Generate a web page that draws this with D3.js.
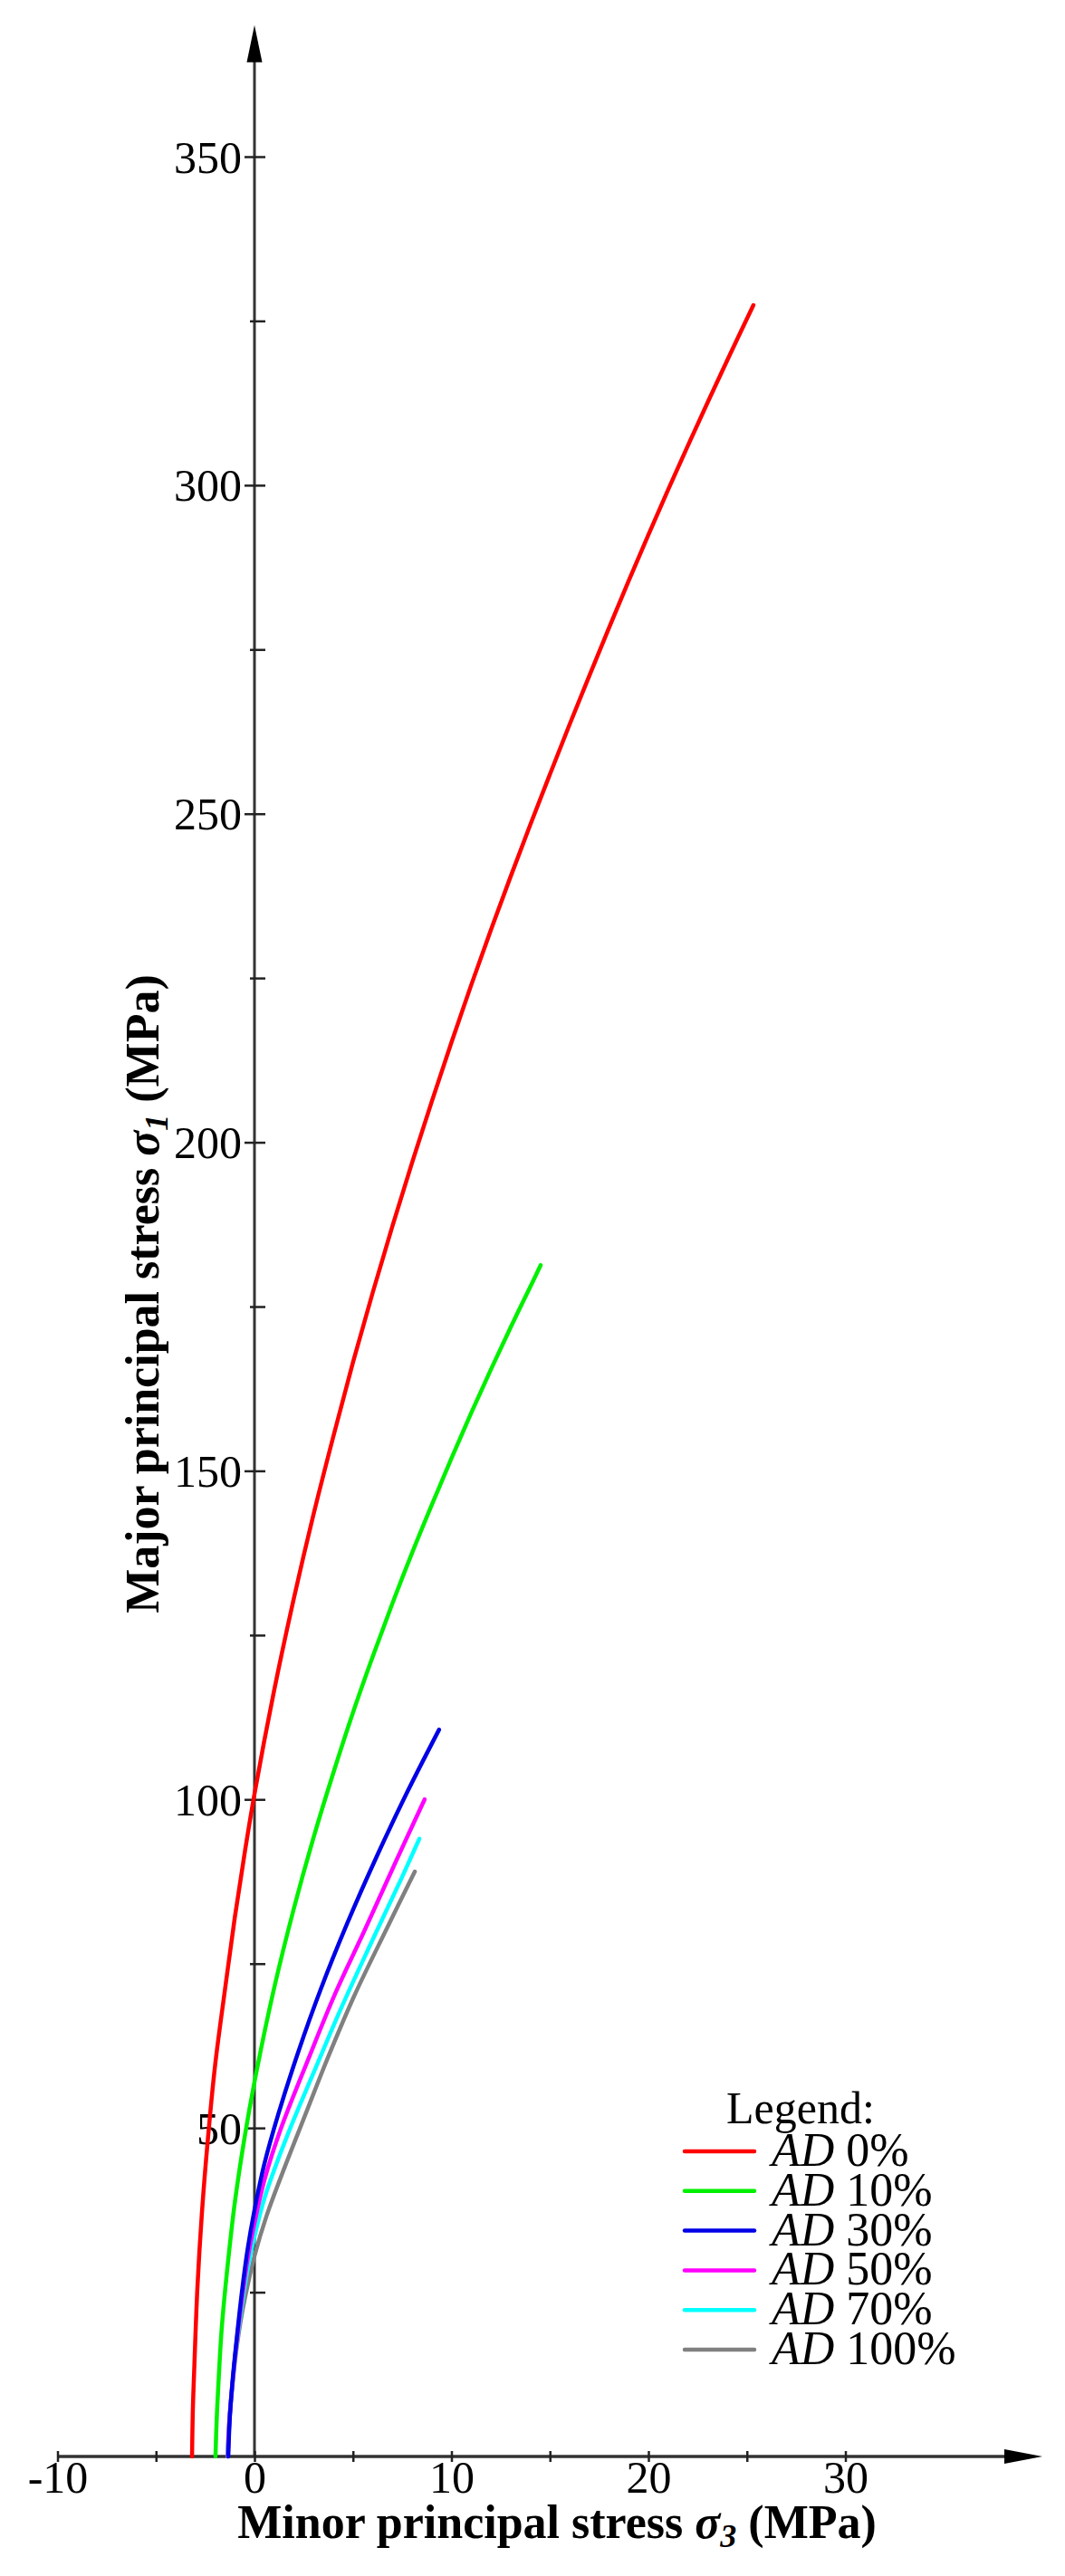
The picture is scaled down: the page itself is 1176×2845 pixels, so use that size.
<!DOCTYPE html>
<html>
<head>
<meta charset="utf-8">
<script src="https://cdn.jsdelivr.net/npm/d3@7"></script>
<style>
  html, body { margin: 0; padding: 0; background: #fff; }
  svg { display: block; }
  text { font-family: "Liberation Serif", "Times New Roman", serif; fill: #000; }
</style>
</head>
<body>
<svg id="chart" width="1176" height="2845"></svg>
<script>
// ---------------- DATA ----------------
const seriesNames = ["0%", "10%", "30%", "50%", "70%", "100%"];
const seriesColors = ["#ff0000", "#00f000", "#0000e6", "#ff00ff", "#00ffff", "#808080"];

// minor principal stress sigma3 (MPa) / major principal stress sigma1 (MPa)
const ad0_s3 = [-3.17, -3.13, -3.05, -2.9, -2.67, -2.36, -2.0, -1.5, -1.0, -0.5, 0, 1, 2, 3, 4, 5, 6, 7, 8, 9, 10, 11, 12, 13, 14, 15, 16, 17, 18, 19, 20, 21, 22, 23, 24, 25.33];
const ad0_s1 = [0, 7, 14, 25.5, 37, 48.5, 59.5, 71, 82, 91.8, 100.8, 116.6, 130.6, 143.4, 155.2, 166.5, 177.1, 187.2, 196.9, 206.2, 215.2, 223.9, 232.3, 240.4, 248.3, 256.0, 263.6, 271.0, 278.3, 285.45, 292.45, 299.3, 306.0, 312.55, 319.0, 327.4];

const ad10_s3 = [-1.98, -1.92, -1.84, -1.66, -1.33, -1.0, -0.5, 0, 1, 2, 3, 4, 5, 6, 7, 8, 9, 10, 11, 12, 13, 14, 14.53];
const ad10_s1 = [0, 5.5, 10.5, 19.6, 30, 38.6, 48.6, 57, 71.3, 83.4, 94.2, 104, 113.2, 121.7, 129.8, 137.5, 144.8, 151.9, 158.8, 165.4, 171.8, 178, 181.3];

const ad30_s3 = [-1.33, -1.25, -1.1, -0.9, -0.64, -0.35, 0, 0.5, 1.2, 2.25, 3.35, 4.69, 6.25, 7.77, 9.37];
const ad30_s1 = [0, 6, 12, 18, 25, 31.5, 37.5, 44.5, 52, 61.8, 71, 81, 91.6, 101.2, 110.6];

const ad50_s3 = [-1.35, -1.27, -1.12, -0.92, -0.66, -0.35, 0, 0.5, 1.33, 2.71, 4.09, 5.61, 7.17, 8.64];
const ad50_s1 = [0, 5.5, 11, 17, 23.5, 30, 35.5, 42, 49.8, 60.3, 70.4, 80.2, 90.5, 100];

const ad70_s3 = [-1.36, -1.28, -1.13, -0.93, -0.66, -0.35, 0, 0.55, 1.66, 3.03, 4.41, 5.93, 7.45, 8.37];
const ad70_s1 = [0, 5, 10.5, 16.5, 22.5, 28.5, 33.5, 39.7, 48.8, 58.6, 68.3, 78.2, 87.9, 94];

const ad100_s3 = [-1.37, -1.29, -1.15, -0.95, -0.65, -0.35, 0, 0.6, 1.66, 2.71, 3.7, 5.05, 6.71, 8.14];
const ad100_s1 = [0, 5, 10, 15.5, 21.5, 26, 30.5, 36.5, 45, 53, 60.5, 70, 80.3, 89];

const xTickMajor = [-10, 0, 10, 20, 30];
const xTickMinor = [-5, 5, 15, 25];
const yTickMajor = [50, 100, 150, 200, 250, 300, 350];
const yTickMinor = [25, 75, 125, 175, 225, 275, 325];
const xAxisEnd = 40;    // arrow tip of sigma3 axis
const yAxisEnd = 370;   // arrow tip of sigma1 axis

// ---------------- CHART ----------------
const svg = d3.select("#chart");
svg.append("rect").attr("width", 1176).attr("height", 2845).attr("fill", "#fff");

const x = d3.scaleLinear().domain([-10, 30]).range([63.5, 933.5]);
const y = d3.scaleLinear().domain([0, 350]).range([2713, 173]);

const axisColor = "#333";

// y axis line + arrow
svg.append("line")
  .attr("x1", x(0)).attr("x2", x(0))
  .attr("y1", y(0)).attr("y2", y(yAxisEnd) + 40)
  .attr("stroke", axisColor).attr("stroke-width", 3);
svg.append("path")
  .attr("d", `M${x(0)},${y(yAxisEnd)} L${x(0) - 8.5},${y(yAxisEnd) + 41} L${x(0) + 8.5},${y(yAxisEnd) + 41} Z`)
  .attr("fill", "#000");

// x axis line + arrow
svg.append("line")
  .attr("x1", x(-10)).attr("x2", x(xAxisEnd) - 40)
  .attr("y1", y(0)).attr("y2", y(0))
  .attr("stroke", axisColor).attr("stroke-width", 3.5);
svg.append("path")
  .attr("d", `M${x(xAxisEnd)},${y(0)} L${x(xAxisEnd) - 42},${y(0) - 8} L${x(xAxisEnd) - 42},${y(0) + 8} Z`)
  .attr("fill", "#000");

// y axis ticks via d3 axis
const yAxisMajor = d3.axisLeft(y).tickValues(yTickMajor).tickFormat(d3.format("d")).tickSize(11).tickPadding(3);
const gy = svg.append("g").attr("transform", `translate(${x(0)},0)`).call(yAxisMajor);
gy.select(".domain").remove();
gy.selectAll(".tick line").attr("x1", 12).attr("x2", -11).attr("stroke", "#222").attr("stroke-width", 2.5);
gy.selectAll(".tick text")
  .attr("font-family", "Liberation Serif, Times New Roman, serif")
  .attr("font-size", 50).attr("fill", "#000").attr("x", -14).attr("dy", "0.34em");

const yAxisMinor = d3.axisLeft(y).tickValues(yTickMinor).tickFormat("").tickSize(5);
const gy2 = svg.append("g").attr("transform", `translate(${x(0)},0)`).call(yAxisMinor);
gy2.select(".domain").remove();
gy2.selectAll(".tick line").attr("x1", 12).attr("x2", -5).attr("stroke", "#222").attr("stroke-width", 2.5);

// x axis ticks
const xAxisMajor = d3.axisBottom(x).tickValues(xTickMajor).tickFormat(d => d < 0 ? "-" + Math.abs(d) : String(d)).tickSize(6).tickPadding(2);
const gx = svg.append("g").attr("transform", `translate(0,${y(0)})`).call(xAxisMajor);
gx.select(".domain").remove();
gx.selectAll(".tick line").attr("y1", -6).attr("y2", 6).attr("stroke", "#222").attr("stroke-width", 2.5);
gx.selectAll(".tick text")
  .attr("font-family", "Liberation Serif, Times New Roman, serif")
  .attr("font-size", 50).attr("fill", "#000").attr("y", 40).attr("dy", 0);

const xAxisMinor = d3.axisBottom(x).tickValues(xTickMinor).tickFormat("").tickSize(6);
const gx2 = svg.append("g").attr("transform", `translate(0,${y(0)})`).call(xAxisMinor);
gx2.select(".domain").remove();
gx2.selectAll(".tick line").attr("y1", -6).attr("y2", 6).attr("stroke", "#222").attr("stroke-width", 2.5);

// curves
const allS3 = [ad0_s3, ad10_s3, ad30_s3, ad50_s3, ad70_s3, ad100_s3];
const allS1 = [ad0_s1, ad10_s1, ad30_s1, ad50_s1, ad70_s1, ad100_s1];
const series = seriesNames.map((n, i) => ({
  name: n, color: seriesColors[i],
  pts: allS3[i].map((v, j) => ({ s3: v, s1: allS1[i][j] }))
}));

const line = d3.line().x(d => x(d.s3)).y(d => y(d.s1)).curve(d3.curveCatmullRom.alpha(0.5));
const drawOrder = [5, 4, 3, 2, 1, 0];
svg.append("g").selectAll("path").data(drawOrder.map(i => series[i])).join("path")
  .attr("d", d => line(d.pts))
  .attr("fill", "none")
  .attr("stroke", d => d.color)
  .attr("stroke-width", 4.5)
  .attr("stroke-linecap", "round")
  .attr("stroke-linejoin", "round");

// axis titles
const xt = svg.append("text")
  .attr("x", 615).attr("y", 2803)
  .attr("text-anchor", "middle")
  .attr("font-size", 52).attr("font-weight", "bold");
xt.append("tspan").text("Minor principal stress ");
xt.append("tspan").attr("font-style", "italic").text("σ");
xt.append("tspan").attr("font-style", "italic").attr("font-size", 36).attr("dy", 10).text("3");
xt.append("tspan").attr("dy", -10).text(" (MPa)");

const yt = svg.append("text")
  .attr("transform", "translate(175,1429) rotate(-90)")
  .attr("text-anchor", "middle")
  .attr("font-size", 52).attr("font-weight", "bold");
yt.append("tspan").text("Major principal stress ");
yt.append("tspan").attr("font-style", "italic").text("σ");
yt.append("tspan").attr("font-style", "italic").attr("font-size", 36).attr("dy", 10).text("1");
yt.append("tspan").attr("dy", -10).text(" (MPa)");

// legend
const lg = svg.append("g");
lg.append("text").attr("x", 802).attr("y", 2345).attr("font-size", 50).text("Legend:");
const rows = lg.selectAll("g.row").data(series).join("g").attr("class", "row")
  .attr("transform", (d, i) => `translate(0,${2392 + i * 43.8})`);
rows.append("line")
  .attr("x1", 756).attr("x2", 833).attr("y1", -16).attr("y2", -16)
  .attr("stroke", d => d.color).attr("stroke-width", 4.5).attr("stroke-linecap", "round");
const rt = rows.append("text").attr("x", 852).attr("y", 0).attr("font-size", 52);
rt.append("tspan").attr("font-style", "italic").text("AD");
rt.append("tspan").text(d => " " + d.name);
</script>
</body>
</html>
